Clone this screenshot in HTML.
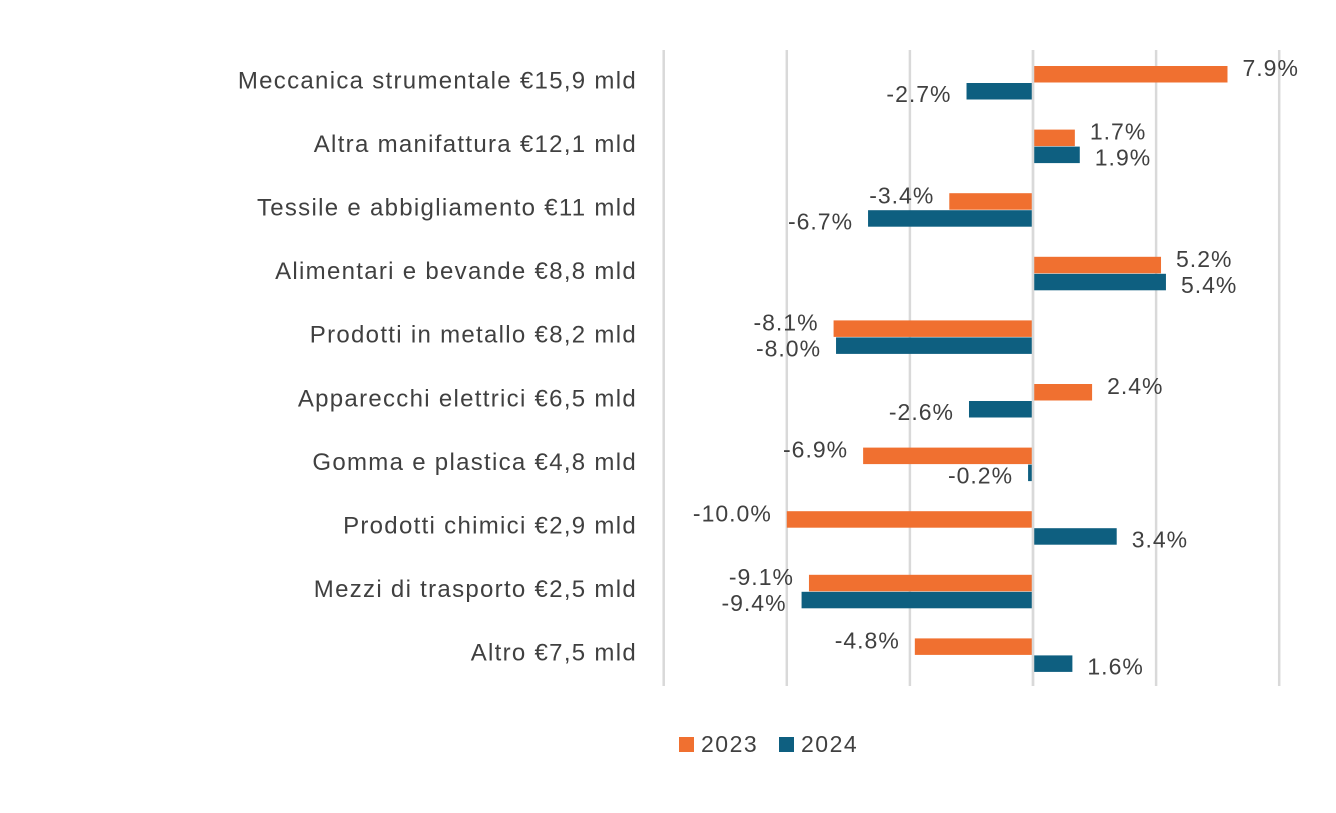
<!DOCTYPE html>
<html><head><meta charset="utf-8"><style>
body{margin:0;background:#fff;}
svg text{font-family:"Liberation Sans",sans-serif;fill:#404040;}
</style></head><body>
<svg id="c" width="1336" height="808"></svg>
<script>
const categories=["Meccanica strumentale €15,9 mld","Altra manifattura €12,1 mld","Tessile e abbigliamento €11 mld","Alimentari e bevande €8,8 mld","Prodotti in metallo €8,2 mld","Apparecchi elettrici €6,5 mld","Gomma e plastica €4,8 mld","Prodotti chimici €2,9 mld","Mezzi di trasporto €2,5 mld","Altro €7,5 mld"];
const values2023=[7.9,1.7,-3.4,5.2,-8.1,2.4,-6.9,-10.0,-9.1,-4.8];
const values2024=[-2.7,1.9,-6.7,5.4,-8.0,-2.6,-0.2,3.4,-9.4,1.6];
const ticks=[-15,-10,-5,0,5,10];
const NS="http://www.w3.org/2000/svg";
const svg=document.getElementById('c');
const x=v=>1033+v*24.62;
const rowTop=i=>50+i*63.6;
function el(t,a,p){const e=document.createElementNS(NS,t);for(const k in a)e.setAttribute(k,a[k]);(p||svg).appendChild(e);return e;}
ticks.forEach(t=>{
 const g=el('line',{x1:x(t),x2:x(t),y1:50,y2:686,stroke:'#d9d9d9','stroke-width':2.5});
 
 
});
function bar(v,y,color,above,name){
 const r=el('rect',{x:Math.min(x(0),x(v)),y:y,width:Math.abs(x(v)-x(0)),height:16.5,fill:color});
 
 
 const pos=v>=0;
 const tx=pos?x(v)+15:x(v)-15;
 const ty=y+8+(above?-4:5);
 const t=el('text',{x:tx,y:ty,'font-size':23,'letter-spacing':1,'dominant-baseline':'middle','text-anchor':pos?'start':'end'});
 t.textContent=v.toFixed(1)+'%';
 
 
}
categories.forEach((c,i)=>{
 const top=rowTop(i);
 const cy=top+32;
 const t=el('text',{x:637,y:cy,'font-size':24,'letter-spacing':1.3,'dominant-baseline':'middle','text-anchor':'end'});
 t.textContent=c;
 
 
 bar(values2023[i],cy-16,'#f07030',true,'bar-2023');
 bar(values2024[i],cy+1,'#0e5f80',false,'bar-2024');
});
const z=el('line',{x1:x(0),x2:x(0),y1:50,y2:686,stroke:'#d9d9d9','stroke-width':2.5});


[['2023','#f07030',679],['2024','#0e5f80',779]].forEach(([n,col,lx])=>{
 const r=el('rect',{x:lx,y:737,width:15,height:15,fill:col});
 
 
 const t=el('text',{x:lx+22,y:746,'font-size':23,'letter-spacing':1.5,'dominant-baseline':'middle'});
 t.textContent=n;
 
 
});
</script>
</body></html>
